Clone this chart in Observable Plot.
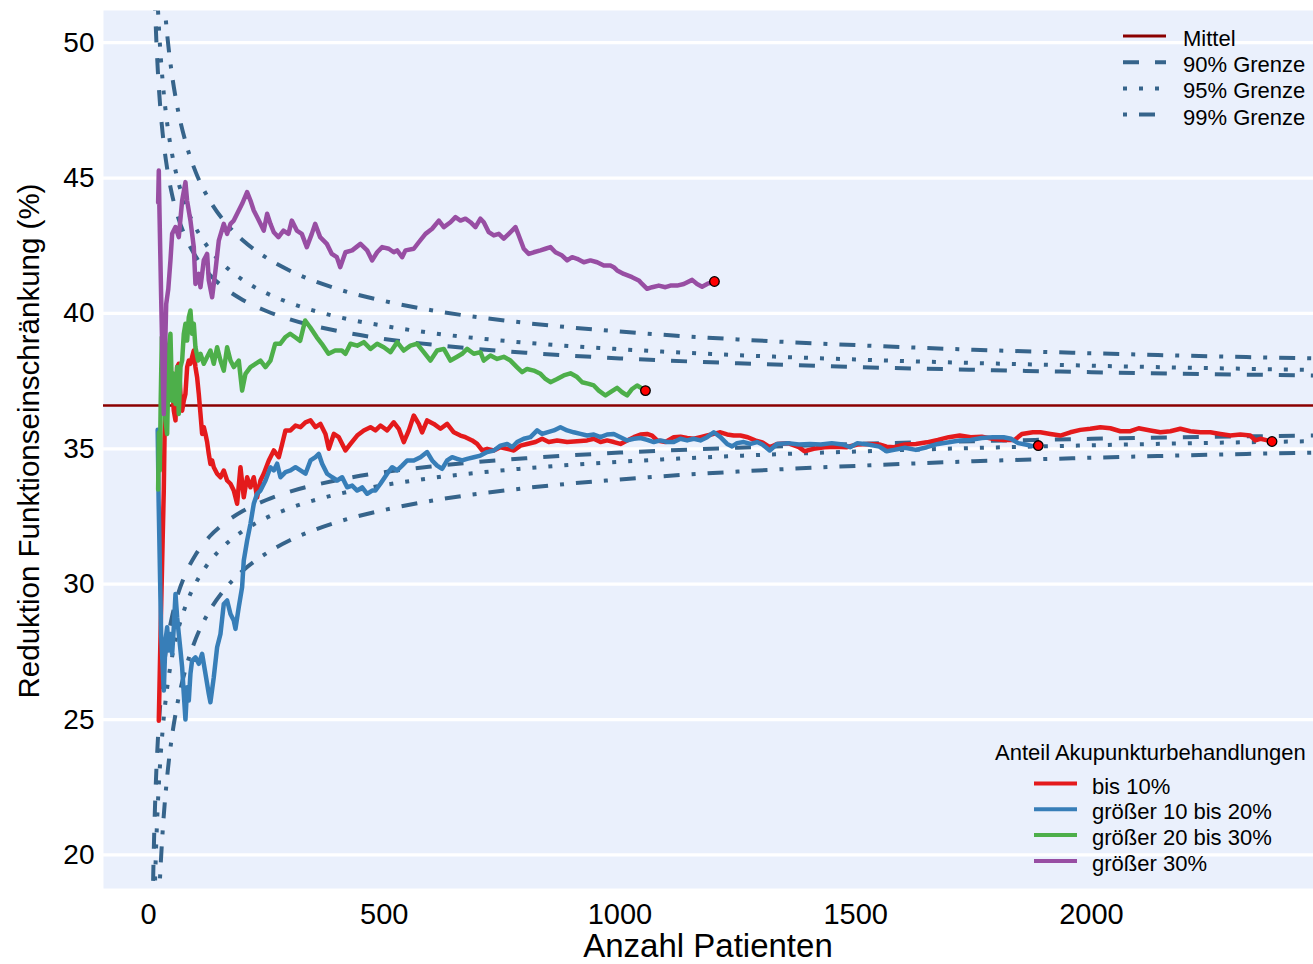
<!DOCTYPE html>
<html>
<head>
<meta charset="utf-8">
<script src="https://cdn.jsdelivr.net/npm/d3@7"></script>
<script src="https://cdn.jsdelivr.net/npm/@observablehq/plot@0.6"></script>
<style>
  body { margin: 0; background: #ffffff; }
  #chart svg { display: block; }
</style>
</head>
<body>
<div id="chart"></div>
<script>
// ---------- data ----------
const meanValue = 36.6;
const xTicks = [0, 500, 1000, 1500, 2000];
const yTicks = [20, 25, 30, 35, 40, 45, 50];

const seriesNames = ["bis 10%", "größer 10 bis 20%", "größer 20 bis 30%", "größer 30%"];
const seriesColors = ["#E41A1C", "#377EB8", "#4DAF4A", "#984EA3"];

const limitNames = ["90% Grenze", "95% Grenze", "99% Grenze"];

// control limit curves (at these patient counts)
const limitN = [5, 7, 10, 12, 15, 20, 25, 30, 40, 50, 60, 80, 100, 130, 160, 200, 250, 300, 400, 500, 600, 800, 1000, 1250, 1500, 1750, 2000, 2250, 2500];
const upper90 = [61.25, 57.43, 54.03, 52.51, 50.83, 48.92, 47.62, 46.66, 45.31, 44.39, 43.71, 42.76, 42.11, 41.43, 40.96, 40.50, 40.09, 39.78, 39.36, 39.06, 38.85, 38.55, 38.34, 38.16, 38.02, 37.92, 37.83, 37.76, 37.70];
const lower90 = [11.95, 15.77, 19.17, 20.69, 22.37, 24.28, 25.58, 26.54, 27.89, 28.81, 29.49, 30.44, 31.09, 31.77, 32.24, 32.70, 33.11, 33.42, 33.84, 34.14, 34.35, 34.65, 34.86, 35.04, 35.18, 35.28, 35.37, 35.44, 35.50];
const upper95 = [65.96, 61.42, 57.36, 55.56, 53.55, 51.28, 49.73, 48.59, 46.98, 45.89, 45.08, 43.94, 43.17, 42.36, 41.79, 41.24, 40.75, 40.39, 39.88, 39.54, 39.28, 38.92, 38.68, 38.46, 38.30, 38.17, 38.07, 37.98, 37.91];
const lower95 = [7.24, 11.78, 15.84, 17.64, 19.65, 21.92, 23.47, 24.61, 26.22, 27.31, 28.12, 29.26, 30.03, 30.84, 31.41, 31.96, 32.45, 32.81, 33.32, 33.66, 33.92, 34.28, 34.52, 34.74, 34.90, 35.03, 35.13, 35.22, 35.29];
const upper99 = [75.19, 69.22, 63.89, 61.51, 58.88, 55.90, 53.86, 52.35, 50.25, 48.80, 47.74, 46.25, 45.23, 44.17, 43.42, 42.70, 42.06, 41.58, 40.91, 40.46, 40.12, 39.65, 39.33, 39.04, 38.83, 38.66, 38.53, 38.42, 38.33];
const lower99 = [-1.99, 3.98, 9.31, 11.69, 14.32, 17.30, 19.34, 20.85, 22.95, 24.40, 25.46, 26.95, 27.97, 29.03, 29.78, 30.50, 31.14, 31.62, 32.29, 32.74, 33.08, 33.55, 33.87, 34.16, 34.37, 34.54, 34.67, 34.78, 34.87];

// cumulative mean per group: [patients, reduction %]
const bis10 = [[21.9,24.96],[26,28.5],[30,31.6],[32.5,33.5],[34,35.4],[36,36.4],[39.6,36.78],[43.1,37.3],[46.6,36.9],[50.2,37.4],[53.7,36.41],[57.3,36.05],[60.8,38.02],[64.3,38.14],[67.9,37.03],[71.4,36.41],[74.9,36.78],[78.4,37.03],[82,38.02],[85.5,38.26],[89,38.14],[92.5,38.39],[96.1,38.63],[99.6,38.02],[103.1,37.65],[106.7,37.03],[110.3,36.29],[113.8,35.55],[117.3,35.8],[120.9,35.55],[124.4,35.25],[127.9,34.81],[131.4,34.44],[135,34.57],[138.5,34.32],[145.6,34.08],[152.7,33.95],[159.7,34.2],[166.8,33.83],[173.9,33.71],[180.9,33.46],[188,32.97],[195.1,34.32],[202.1,33.21],[209.2,33.95],[216.3,33.58],[223.3,33.95],[230.4,33.21],[237.5,33.83],[244.5,34.08],[255.2,34.57],[265.8,34.94],[276.4,34.69],[283.5,35.18],[290.6,35.68],[301.2,35.68],[311.8,35.86],[322.4,35.8],[333,35.98],[343.6,36.05],[354.2,35.8],[364.8,35.92],[375.4,35.55],[382.5,35.0],[393.1,35.55],[403.7,35.43],[417.8,34.94],[428.4,35.18],[442.6,35.49],[456.7,35.68],[470.8,35.8],[481.4,35.68],[492,35.86],[506.2,35.68],[520.3,35.98],[530.9,35.74],[541.5,35.25],[552.2,35.68],[562.7,36.23],[573.3,35.92],[580.4,35.61],[591,36.05],[605.2,35.92],[619.3,35.74],[633.5,35.92],[647.6,35.61],[661.7,35.49],[672.3,35.43],[686.5,35.31],[697.1,35.18],[707.7,34.94],[718.3,35.0],[732.4,34.94],[746.6,35.06],[760.7,35.0],[774.9,34.94],[789,35.12],[803.1,35.18],[820.8,35.25],[834.9,35.37],[849.1,35.25],[866.7,35.31],[888,35.25],[909.2,35.28],[930.4,35.31],[944.5,35.37],[958.7,35.25],[972.8,35.31],[987,35.25],[1001.1,35.18],[1015.2,35.31],[1029.4,35.43],[1043.5,35.53],[1057.6,35.55],[1068.2,35.49],[1078.8,35.31],[1096.5,35.25],[1114.2,35.43],[1128.3,35.45],[1142.5,35.4],[1156.6,35.37],[1170.7,35.43],[1184.9,35.49],[1199,35.55],[1213.1,35.61],[1227.3,35.53],[1241.4,35.49],[1255.6,35.49],[1271.1,35.43],[1286.6,35.31],[1302.1,35.24],[1317.6,35.06],[1333.1,35.18],[1356.3,35.21],[1379.6,35.06],[1391.2,34.91],[1410.6,35.0],[1433.8,35.06],[1457.1,35.08],[1480.3,35.06],[1503.6,35.16],[1526.9,35.18],[1550.1,35.16],[1565.6,35.08],[1581.2,35.06],[1604.4,35.16],[1627.7,35.18],[1650.9,35.24],[1674.2,35.33],[1697.5,35.43],[1720.7,35.49],[1744,35.43],[1767.2,35.45],[1790.4,35.37],[1813.7,35.33],[1837,35.33],[1852.5,35.55],[1875.7,35.61],[1891.8,35.61],[1912.9,35.55],[1934.1,35.49],[1955.3,35.61],[1976.5,35.7],[1997.7,35.74],[2018.9,35.8],[2040.1,35.76],[2061.3,35.65],[2082.5,35.65],[2100.2,35.76],[2125,35.68],[2146.2,35.61],[2167.4,35.65],[2188.6,35.74],[2209.8,35.65],[2231,35.61],[2252.2,35.61],[2273.4,35.55],[2294.6,35.49],[2315.8,35.53],[2337,35.49],[2347.6,35.31],[2358.2,35.37],[2368.8,35.33],[2383,35.27]];

const bis20 = [[19.5,35.7],[20.5,34.5],[21.5,33.1],[26.8,28.16],[32.5,26.07],[36,27.92],[39.6,28.41],[43.1,27.55],[46.6,28.16],[50.2,27.43],[53.7,28.41],[57.3,29.64],[60.8,28.78],[64.3,28.16],[67.9,27.55],[71.4,26.93],[74.9,25.95],[78.4,25.0],[82,26.19],[85.5,25.7],[89,26.69],[92.5,27.18],[99.6,27.3],[106.7,27.06],[113.8,27.43],[120.9,26.69],[127.9,25.95],[131.4,25.64],[138.5,26.56],[145.6,27.67],[152.7,28.16],[159.7,29.27],[166.8,29.4],[173.9,28.9],[180.9,28.66],[184.5,28.35],[191.5,29.15],[198.6,29.89],[202.1,30.87],[209.2,31.61],[216.3,32.23],[223.3,32.97],[230.4,33.34],[237.5,33.46],[248.2,33.83],[258.8,34.32],[265.8,34.2],[272.9,34.45],[280,33.95],[290.6,34.14],[301.2,34.2],[311.8,34.32],[322.4,34.2],[333,34.08],[343.6,34.57],[354.2,34.69],[361.3,34.81],[368.3,34.45],[378.9,34.08],[389.6,33.95],[400.2,33.83],[410.8,33.95],[421.4,33.58],[432,33.64],[442.6,33.46],[453.2,33.58],[463.8,33.34],[474.4,33.46],[481.4,33.46],[492,33.71],[506.2,34.08],[516.8,34.32],[527.4,34.2],[538,34.38],[548.6,34.57],[562.7,34.57],[576.9,34.69],[591,34.88],[601.6,34.57],[612.2,34.38],[622.8,34.26],[633.5,34.57],[644.1,34.69],[654.6,34.63],[665.2,34.57],[675.8,34.63],[690,34.69],[704.1,34.75],[718.3,34.88],[732.4,34.94],[746.6,35.12],[760.7,35.18],[771.3,35.06],[781.9,35.25],[796,35.37],[810.2,35.43],[824.3,35.68],[834.9,35.55],[845.5,35.61],[859.7,35.68],[873.8,35.8],[888,35.68],[902.1,35.61],[916.3,35.55],[930.4,35.49],[944.5,35.53],[958.7,35.43],[972.8,35.53],[987,35.55],[1001.1,35.43],[1015.2,35.31],[1029.4,35.37],[1043.5,35.4],[1057.6,35.33],[1071.8,35.25],[1085.9,35.31],[1100,35.25],[1114.2,35.25],[1128.3,35.37],[1142.5,35.31],[1156.6,35.37],[1170.7,35.31],[1184.9,35.43],[1199,35.61],[1213.1,35.43],[1227.3,35.18],[1237.9,35.09],[1248.5,35.21],[1262.6,35.25],[1276.8,35.18],[1290.9,35.25],[1302.1,35.16],[1317.6,34.94],[1333.1,35.18],[1356.3,35.21],[1379.6,35.16],[1402.8,35.18],[1426.1,35.16],[1449.3,35.21],[1472.6,35.16],[1488.1,35.06],[1503.6,35.21],[1526.9,35.16],[1550.1,35.08],[1565.6,34.91],[1581.2,34.96],[1604.4,35.04],[1627.7,34.96],[1650.9,35.06],[1674.2,35.18],[1697.5,35.24],[1720.7,35.31],[1744,35.33],[1767.2,35.4],[1790.4,35.43],[1813.7,35.43],[1829.2,35.37],[1844.7,35.21],[1860.2,35.16],[1875.7,35.1],[1887.3,35.12]];

const bis30 = [[20.5,33.5],[22,35.6],[24,34.2],[26,36.8],[28.3,39.12],[30.5,39.25],[33.5,37.0],[36,36.05],[39.6,35.55],[43.1,38.75],[46.6,39.25],[50.2,36.78],[53.7,37.77],[57.3,36.66],[60.8,38.02],[64.3,36.29],[67.9,38.02],[71.4,38.26],[74.9,39.25],[78.4,39.62],[82,39.0],[85.5,39.86],[89,40.11],[92.5,39.25],[96.1,39.62],[99.6,38.75],[105.2,38.26],[110.3,38.51],[117.3,38.14],[124.4,38.39],[131.4,38.63],[138.5,38.14],[145.6,38.75],[152.7,38.26],[159.7,37.89],[166.8,38.75],[173.9,38.26],[180.9,38.02],[191.5,38.26],[198.6,37.15],[205.7,37.77],[216.3,38.02],[226.9,38.14],[237.5,38.26],[248.1,38.02],[258.7,38.26],[268.7,38.88],[279.3,38.88],[289.9,39.12],[300.5,39.25],[311.1,39.12],[321.7,38.99],[332.3,39.74],[342.9,39.49],[357,39.12],[367.6,38.88],[381.8,38.51],[395.9,38.63],[410.1,38.63],[417.8,38.51],[428.4,38.88],[442.6,38.81],[456.7,38.94],[470.8,38.69],[485,38.88],[499.1,38.75],[513.3,38.57],[527.4,38.94],[541.5,38.63],[555.7,38.81],[569.8,38.88],[583.9,38.57],[598.1,38.26],[612.2,38.63],[626.4,38.69],[640.5,38.26],[654.6,38.4],[665.2,38.51],[675.8,38.69],[690,38.51],[704.1,38.57],[711.2,38.26],[725.3,38.45],[739.5,38.32],[753.6,38.4],[767.8,38.26],[781.9,38.01],[792.5,37.83],[803.1,37.95],[817.2,37.89],[831.4,37.77],[842,37.58],[852.6,37.46],[866.7,37.58],[880.8,37.71],[895,37.79],[909.2,37.65],[919.8,37.46],[933.9,37.4],[944.5,37.34],[955.1,37.15],[969.3,36.97],[979.8,37.09],[994,37.25],[1004.6,37.09],[1015.2,36.97],[1025.8,37.21],[1036.4,37.34],[1054.1,37.15]];

const ueber30 = [[20.5,44.1],[21.9,45.28],[23,44.05],[27,40.5],[30,38.0],[32.5,36.29],[35,38.5],[37.6,40.35],[42,40.9],[46.6,41.96],[50.2,42.94],[57.3,43.19],[64.3,42.82],[71.4,44.17],[78.4,44.85],[81.9,44.17],[89,43.43],[96.1,42.45],[99.6,41.09],[106.7,41.46],[110.3,40.97],[117.3,41.96],[124.4,42.2],[127.9,41.22],[135,40.6],[142.1,41.59],[149.1,42.69],[159.7,43.31],[166.8,42.94],[173.9,43.31],[180.9,43.43],[188,43.68],[198.6,44.05],[209.2,44.48],[216.3,44.17],[223.3,43.8],[230.4,43.56],[237.5,43.31],[244.5,43.06],[251.6,43.68],[258.7,43.31],[265.8,43.0],[275.7,42.82],[286.3,43.06],[296.9,42.94],[304,43.43],[314.6,43.06],[325.2,42.94],[335.8,42.45],[346.4,42.94],[353.5,43.31],[364.1,42.82],[378.3,42.57],[388.9,42.2],[399.5,42.08],[406.6,41.71],[417.8,42.26],[432,42.33],[449.6,42.57],[463.8,42.33],[474.4,41.96],[485,42.26],[495.6,42.45],[509.7,42.39],[520.3,42.26],[527.4,42.33],[538,42.08],[545.1,42.33],[562.7,42.39],[573.3,42.63],[587.5,42.94],[601.6,43.13],[615.8,43.43],[626.4,43.19],[640.5,43.37],[651.1,43.56],[661.7,43.43],[672.3,43.5],[682.9,43.37],[693.5,43.19],[704.1,43.5],[711.2,43.37],[721.8,43.0],[732.4,42.88],[743,42.94],[753.6,42.76],[764.2,42.94],[778.4,43.19],[785.4,42.88],[796,42.39],[806.6,42.2],[817.2,42.26],[831.4,42.33],[842,42.39],[852.6,42.45],[863.2,42.26],[877.3,42.14],[888,41.96],[898.6,42.08],[909.2,42.02],[923.3,41.89],[937.4,41.96],[951.6,41.89],[965.7,41.77],[979.8,41.77],[986.9,41.71],[994,41.59],[1008.1,41.46],[1025.8,41.34],[1039.9,41.22],[1047,41.09],[1057.6,40.91],[1068.2,40.97],[1082.3,41.03],[1096.5,40.97],[1107.1,41.03],[1121.2,41.03],[1135.4,41.09],[1153.1,41.24],[1163.6,41.09],[1174.2,40.99],[1184.9,41.09],[1200.4,41.18]];

// ---------- build tables ----------
const seriesArrays = [bis10, bis20, bis30, ueber30];
const seriesRows = seriesArrays.flatMap((arr, i) => arr.map(([n, v]) => ({n, v, group: seriesNames[i]})));
const endRows = seriesArrays.map((arr, i) => ({n: arr[arr.length - 1][0], v: arr[arr.length - 1][1], group: seriesNames[i]}));

const limitSets = [
  {name: limitNames[0], dash: "16,16", upper: upper90, lower: lower90},
  {name: limitNames[1], dash: "4,12", upper: upper95, lower: lower95},
  {name: limitNames[2], dash: "4,12,16,12", upper: upper99, lower: lower99}
];

const limitColor = "#36648B";
const meanColor = "#8B0000";
const panelBg = "#EAF0FC";

const limitMarks = limitSets.flatMap(s => ["upper", "lower"].map(side =>
  Plot.line(limitN.map((n, k) => ({n, v: s[side][k]})), {
    x: "n", y: "v", stroke: limitColor, strokeWidth: 4,
    strokeDasharray: s.dash, strokeLinecap: "butt", curve: "monotone-x", clip: true
  })
));

const chart = Plot.plot({
  width: 1313,
  height: 964,
  marginLeft: 103,
  marginRight: 0,
  marginTop: 10,
  marginBottom: 76,
  style: {fontFamily: "'Liberation Sans', Arial, sans-serif", color: "#000", background: "#fff"},
  x: {domain: [-95.4, 2471]},
  y: {domain: [18.76, 51.19]},
  color: {domain: seriesNames, range: seriesColors},
  marks: [
    Plot.frame({fill: panelBg, stroke: null}),
    Plot.gridY(yTicks, {stroke: "#ffffff", strokeOpacity: 1, strokeWidth: 3.2}),
    Plot.ruleY([meanValue], {stroke: meanColor, strokeWidth: 2.6}),
    ...limitMarks,
    Plot.line(seriesRows, {x: "n", y: "v", z: "group", stroke: "group", strokeWidth: 4.5, strokeLinejoin: "round", clip: true}),
    Plot.dot(endRows, {x: "n", y: "v", r: 4.8, fill: "#FF0000", stroke: "#000", strokeWidth: 1.3}),
    Plot.axisX(xTicks, {tickSize: 0, tickPadding: 15, fontSize: 29, label: null, tickFormat: d => String(d)}),
    Plot.axisY(yTicks, {tickSize: 0, tickPadding: 9, fontSize: 28, label: null, tickFormat: d => String(d)})
  ]
});

document.getElementById("chart").appendChild(chart);

// ---------- titles and legends ----------
const svg = d3.select(chart);
const font = "'Liberation Sans', Arial, sans-serif";

svg.append("text")
  .attr("x", 708).attr("y", 957)
  .attr("text-anchor", "middle")
  .attr("font-family", font).attr("font-size", 33).attr("fill", "#000")
  .text("Anzahl Patienten");

svg.append("text")
  .attr("transform", "translate(39,441) rotate(-90)")
  .attr("text-anchor", "middle")
  .attr("font-family", font).attr("font-size", 29.5).attr("fill", "#000")
  .text("Reduktion Funktionseinschränkung (%)");

// top-right legend: mean and limits
const topLegend = svg.append("g").attr("text-anchor", "start");
const topItems = [
  {label: "Mittel", color: meanColor, dash: null, width: 3},
  ...limitSets.map(s => ({label: s.name, color: limitColor, dash: s.dash, width: 4}))
];
topItems.forEach((it, i) => {
  const y = 36 + i * 26.2;
  const ln = topLegend.append("line")
    .attr("x1", 1123).attr("x2", 1166).attr("y1", y).attr("y2", y)
    .attr("stroke", it.color).attr("stroke-width", it.width);
  if (it.dash) ln.attr("stroke-dasharray", it.dash);
  topLegend.append("text")
    .attr("x", 1183).attr("y", y + 10)
    .attr("text-anchor", "start")
    .attr("font-family", font).attr("font-size", 22).attr("fill", "#000")
    .text(it.label);
});

// bottom-right legend: groups
const botLegend = svg.append("g").attr("text-anchor", "start");
botLegend.append("text")
  .attr("x", 995).attr("y", 759.5)
  .attr("text-anchor", "start")
  .attr("font-family", font).attr("font-size", 22).attr("fill", "#000")
  .text("Anteil Akupunkturbehandlungen");
seriesNames.forEach((name, i) => {
  const y = 783.5 + i * 25.8;
  botLegend.append("line")
    .attr("x1", 1034).attr("x2", 1077).attr("y1", y).attr("y2", y)
    .attr("stroke", seriesColors[i]).attr("stroke-width", 4);
  botLegend.append("text")
    .attr("x", 1092).attr("y", y + 10)
    .attr("text-anchor", "start")
    .attr("font-family", font).attr("font-size", 22).attr("fill", "#000")
    .text(name);
});
</script>
</body>
</html>
